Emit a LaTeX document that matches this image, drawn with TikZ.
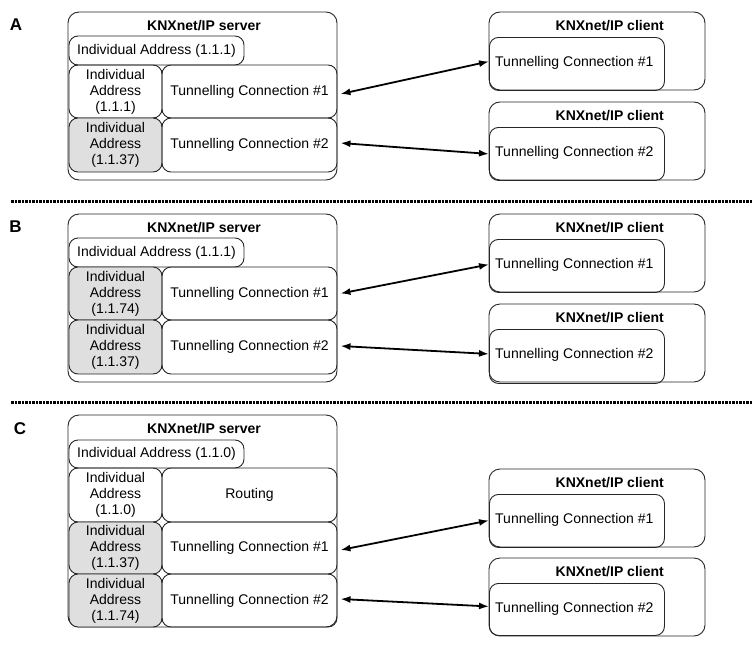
\documentclass[tikz,border=0pt]{standalone}
\usepackage{fontspec}
\setmainfont{Liberation Sans}
\usetikzlibrary{arrows.meta}
\newcommand{\fs}{\fontsize{14}{16}\selectfont}
\tikzset{
 outer/.style={draw=black!85, line width=0.9pt, rounded corners=11pt, inner sep=0pt},
 cell/.style={draw=black!85, line width=0.9pt, rounded corners=9pt, inner sep=0pt, align=center, font=\fs},
 grey/.style={fill=gray!25},
 txt/.style={inner sep=0pt, font=\fs},
 ttl/.style={inner sep=0pt, font=\fs\bfseries},
 lab/.style={inner sep=0pt, font=\fontsize{17}{20}\selectfont\bfseries},
 link/.style={line width=1.8pt, {Latex[length=10pt,width=7pt]}-{Latex[length=10pt,width=7pt]}},
 sepline/.style={line width=3pt, dash pattern=on 2.5pt off 1pt}
}
% client: #1 name prefix, #2 top y, #3 inner height, #4 text
\newcommand{\clientbox}[4]{%
 \node[outer, minimum width=216pt, minimum height=78pt] (#1o) at (597,#2+39) {};
 \node[cell, minimum width=175pt, minimum height=#3pt, anchor=north west] (#1i) at (489,#2+25) {};
 \node[ttl, anchor=base east] (#1t) at (664,#2+18) {KNXnet/IP client};
 \node[txt, anchor=base west] (#1x) at (495,#2+54) {#4};
}
\begin{document}
\begin{tikzpicture}[x=1pt,y=-1pt]
\useasboundingbox (0,0) rectangle (755,645);

% ---------------- A ----------------
\node[lab, anchor=base] (labA) at (16,30) {A};
\node[outer, minimum width=269pt, minimum height=168pt] (aS) at (202.5,96) {};
\node[ttl, anchor=base] (aST) at (204,30) {KNXnet/IP server};
\node[cell, minimum width=175pt, minimum height=29pt] (aIA) at (156.5,50.5) {Individual Address (1.1.1)};
\node[cell, minimum width=93pt, minimum height=53pt] (aI1) at (115.5,91.5) {Individual\\Address\\(1.1.1)};
\node[cell, minimum width=175pt, minimum height=53pt] (aT1) at (249.5,91.5) {Tunnelling Connection \#1};
\node[cell, grey, minimum width=93pt, minimum height=54pt] (aI2) at (115.5,145) {Individual\\Address\\(1.1.37)};
\node[cell, minimum width=175pt, minimum height=54pt] (aT2) at (249.5,145) {Tunnelling Connection \#2};
\clientbox{aC1}{12}{53}{Tunnelling Connection \#1}
\clientbox{aC2}{102}{53}{Tunnelling Connection \#2}
\draw[link] ([xshift=3pt,yshift=-2.5pt]aT1.east) -- ([yshift=2.5pt]aC1i.west);
\draw[link] ([xshift=3pt,yshift=2pt]aT2.east) -- ([yshift=0pt]aC2i.west);

\coordinate (s1a) at (11,201);
\coordinate (s1b) at (752,201);
\draw[sepline] (s1a) -- (s1b);

% ---------------- B ----------------
\node[lab, anchor=base] (labB) at (15.5,232) {B};
\node[outer, minimum width=269pt, minimum height=168pt] (bS) at (202.5,298) {};
\node[ttl, anchor=base] (bST) at (204,232) {KNXnet/IP server};
\node[cell, minimum width=175pt, minimum height=29pt] (bIA) at (156.5,252.5) {Individual Address (1.1.1)};
\node[cell, grey, minimum width=93pt, minimum height=53pt] (bI1) at (115.5,293.5) {Individual\\Address\\(1.1.74)};
\node[cell, minimum width=175pt, minimum height=53pt] (bT1) at (249.5,293.5) {Tunnelling Connection \#1};
\node[cell, grey, minimum width=93pt, minimum height=54pt] (bI2) at (115.5,347) {Individual\\Address\\(1.1.37)};
\node[cell, minimum width=175pt, minimum height=54pt] (bT2) at (249.5,347) {Tunnelling Connection \#2};
\clientbox{bC1}{214}{53}{Tunnelling Connection \#1}
\clientbox{bC2}{304}{54}{Tunnelling Connection \#2}
\draw[link] ([xshift=3pt,yshift=0pt]bT1.east) -- ([yshift=1.5pt]bC1i.west);
\draw[link] ([xshift=3pt,yshift=1pt]bT2.east) -- ([yshift=2.5pt]bC2i.west);

\coordinate (s2a) at (11,402);
\coordinate (s2b) at (752,402);
\draw[sepline] (s2a) -- (s2b);

% ---------------- C ----------------
\node[lab, anchor=base] (labC) at (20,434) {C};
\node[outer, minimum width=269pt, minimum height=212pt] (cS) at (202.5,521) {};
\node[ttl, anchor=base] (cST) at (204,433) {KNXnet/IP server};
\node[cell, minimum width=175pt, minimum height=28pt] (cIA) at (156.5,454) {Individual Address (1.1.0)};
\node[cell, minimum width=93pt, minimum height=54pt] (cI0) at (115.5,495) {Individual\\Address\\(1.1.0)};
\node[cell, minimum width=175pt, minimum height=54pt] (cR) at (249.5,495) {Routing};
\node[cell, grey, minimum width=93pt, minimum height=52pt] (cI1) at (115.5,548) {Individual\\Address\\(1.1.37)};
\node[cell, minimum width=175pt, minimum height=52pt] (cT1) at (249.5,548) {Tunnelling Connection \#1};
\node[cell, grey, minimum width=93pt, minimum height=53pt] (cI2) at (115.5,600.5) {Individual\\Address\\(1.1.74)};
\node[cell, minimum width=175pt, minimum height=53pt] (cT2) at (249.5,600.5) {Tunnelling Connection \#2};
\clientbox{cC1}{469}{53}{Tunnelling Connection \#1}
\clientbox{cC2}{558}{52}{Tunnelling Connection \#2}
\draw[link] ([xshift=3pt,yshift=-2pt]cT1.east) -- ([yshift=0.5pt]cC1i.west);
\draw[link] ([xshift=3pt,yshift=1.5pt]cT2.east) -- ([yshift=3pt]cC2i.west);
\end{tikzpicture}
\end{document}
